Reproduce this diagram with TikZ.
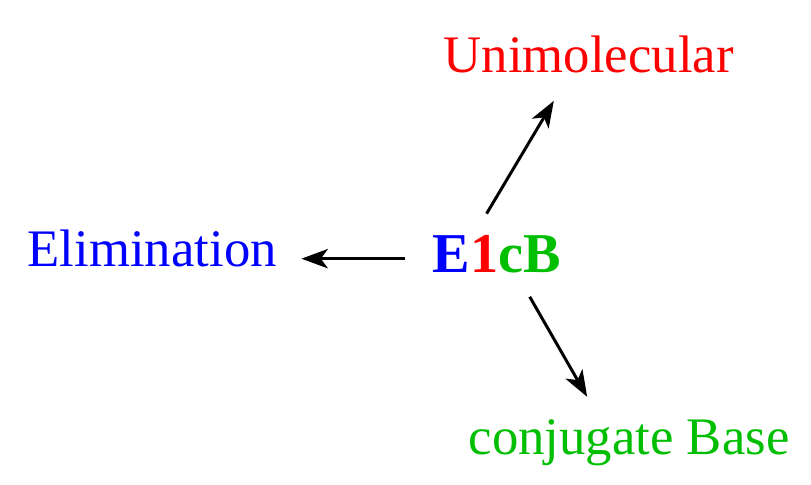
\documentclass[tikz,border=0pt]{standalone}
\usepackage{fontspec}
\setmainfont{Liberation Serif}
\usetikzlibrary{arrows.meta}
\definecolor{ebgreen}{RGB}{0,190,0}
\tikzset{
  word/.style={inner sep=0pt, anchor=base west, font=\fontsize{15}{18}\selectfont},
  react/.style={-{Stealth[length=7.5pt,width=5.5pt,inset=2pt]}, line width=0.85pt},
}
\begin{document}
\begin{tikzpicture}[x=0.01cm,y=-0.01cm]
        \useasboundingbox (0,0) rectangle (811,485);
        \node[word, blue] (elim) at (27,267) {Elimination};
        \node[word, font=\fontsize{16}{19}\selectfont\bfseries] (e1cb) at (432,273)
            {\textcolor{blue}{E}\textcolor{red}{1}\textcolor{ebgreen}{cB}};
        \node[word, red] (uni) at (443,73) {Unimolecular};
        \node[word, ebgreen] (conj) at (468,455) {conjugate Base};
        \draw[react, shorten <=0.27cm, shorten >=0.24cm]
            ([yshift=-0.04cm]e1cb.west) -- ([yshift=-0.04cm]e1cb.west -| elim.east);
        \draw[react, shorten <=0.25cm, shorten >=0.31cm]
            ([xshift=-0.23cm]e1cb.north) -- ([xshift=-0.19cm]uni.south);
        \draw[react, shorten <=0.26cm, shorten >=0.26cm]
            ([xshift=0.20cm]e1cb.south) -- ([xshift=-0.29cm]conj.north);
    \end{tikzpicture}
\end{document}
